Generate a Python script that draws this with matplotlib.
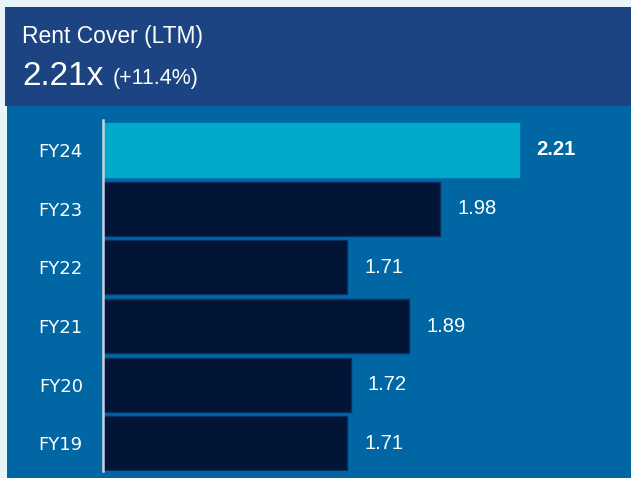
import matplotlib
matplotlib.use("Agg")
import matplotlib.pyplot as plt
from matplotlib.patches import Rectangle

categories = ["FY19", "FY20", "FY21", "FY22", "FY23", "FY24"]
values = [1.71, 1.72, 1.89, 1.71, 1.98, 2.21]
value_labels = ["1.71", "1.72", "1.89", "1.71", "1.98", "2.21"]
title = "Rent Cover (LTM)"
headline = "2.21x"
change = "(+11.4%)"

W, H = 631, 478
fig = plt.figure(figsize=(W / 100, H / 100), dpi=100)
fig.patch.set_facecolor("#E8F4FA")

# header & body panels
fig.add_artist(Rectangle((5 / W, 1 - 106 / H), 1 - 5 / W, 99 / H,
                         transform=fig.transFigure, facecolor="#1C4482", edgecolor="none", zorder=0))
fig.add_artist(Rectangle((7 / W, 0), 1 - 7 / W, 1 - 106 / H,
                         transform=fig.transFigure, facecolor="#0066A4", edgecolor="none", zorder=0))

fig.text(22 / W, 1 - 43 / H, title, color="white", fontsize=16.5,
         family="Liberation Sans", va="baseline", ha="left")
t = fig.text(22 / W, 1 - 85 / H, headline, color="white", fontsize=24,
             family="Liberation Sans", va="baseline", ha="left")
fig.canvas.draw()
bb = t.get_window_extent()
fig.text(bb.x1 / W + 9 / W, 1 - 84 / H, change, color="white", fontsize=15.5,
         family="Liberation Sans", va="baseline", ha="left")

ax = fig.add_axes([103 / W, 7 / H, 1 - 103 / W, 351 / H])
ax.set_facecolor("none")
ypos = list(range(len(categories)))
colors = ["#021536"] * (len(categories) - 1) + ["#00AACB"]
ax.barh(ypos, values, left=0, height=0.92, color=colors,
        edgecolor=["#0B2E63"] * (len(categories) - 1) + ["#00AACB"], linewidth=1, zorder=2)
ax.set_xlim(1.0, 1.0 + 528 / 344)
ax.set_ylim(-0.47, 5.511)
for s in ["top", "right", "bottom"]:
    ax.spines[s].set_visible(False)
ax.spines["left"].set_color("#C8D2DC")
ax.spines["left"].set_linewidth(1.8)
ax.spines["left"].set_zorder(3)
ax.set_xticks([])
ax.set_yticks(ypos)
ax.set_yticklabels(categories, color="white", fontsize=13, family="DejaVu Sans")
ax.tick_params(axis="y", length=0, pad=14.5)

for i, (v, lab) in enumerate(zip(values, value_labels)):
    bold = i == len(values) - 1
    ax.annotate(lab, (v, i), xytext=(17, 0), textcoords="offset pixels",
                color="white", fontsize=14.5, va="center", ha="left",
                fontweight="bold" if bold else "normal", family="Liberation Sans")

fig.savefig("out.png", dpi=100, facecolor=fig.get_facecolor())
